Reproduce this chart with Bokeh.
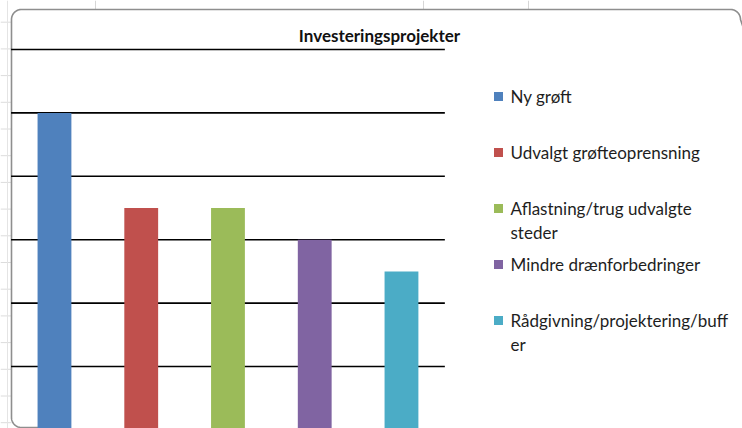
import numpy as np
from bokeh.plotting import figure
from bokeh.models import Range1d, ColumnDataSource
from bokeh.core.properties import value
from bokeh.embed import file_html
from bokeh.resources import INLINE

# ---- data ----
title_text = "Investeringsprojekter"
categories = ["Ny grøft", "Udvalgt grøfteoprensning", "Aflastning/trug udvalgte steder",
              "Mindre drænforbedringer", "Rådgivning/projektering/buffer"]
legend_labels = ["Ny grøft", "Udvalgt grøfteoprensning", "Aflastning/trug udvalgte\nsteder",
                 "Mindre drænforbedringer", "Rådgivning/projektering/buff\ner"]
values = [5.0, 3.5, 3.5, 3.0, 2.5]
colors = ["#4F81BD", "#C0504D", "#9BBB59", "#8064A2", "#4BACC6"]
grid_values = [1, 2, 3, 4, 5, 6]

# ---- layout (pixels) ----
W, H = 742, 428
OFF = 0
SX = 86.75              # px per category slot
SY = 63.4               # px per value unit
x_start = -(10.6 - OFF) / SX
x_end = x_start + W / SX
y_end = 6 + (49 - OFF) / SY
y_start = y_end - H / SY

def X(px):
    return x_start + (px - OFF) / SX

def Y(py):
    return y_end - (py - OFF) / SY

FONT = "Lato"

p = figure(width=W, height=H, x_range=Range1d(x_start, x_end), y_range=Range1d(y_start, y_end),
           x_axis_type=None, y_axis_type=None, output_backend="svg", toolbar_location=None,
           min_border=0, outline_line_color=None, background_fill_color="white",
           border_fill_color="white")
p.grid.visible = False

# faint spreadsheet cell lines behind the chart
stub_y = [21.7 + 26.7 * k for k in range(16)]
p.segment(x0=[X(0)] * len(stub_y), x1=[X(11)] * len(stub_y), y0=[Y(v) for v in stub_y],
          y1=[Y(v) for v in stub_y], line_color="#dcdcdc", line_width=1)
p.segment(x0=[X(7)], x1=[X(7)], y0=[Y(0)], y1=[Y(428)], line_color="#e4e4e4", line_width=1)
top_x = [95, 423, 528]
p.segment(x0=[X(v) for v in top_x], x1=[X(v) for v in top_x], y0=[Y(0)] * 3, y1=[Y(9)] * 3,
          line_color="#d6d6d6", line_width=1)

# chart-area border (rounded corners)
r = 10
a1 = np.linspace(np.pi, np.pi / 2, 20)          # top-left
a2 = np.linspace(np.pi, 3 * np.pi / 2, 20)      # bottom-left
a3 = np.linspace(np.pi / 2, 0, 20)              # top-right
bx = ([750] + list(740 - r + r * np.cos(a3[::-1])) + list(11 + r + r * np.cos(a1[::-1]))
      + list(11 + r + r * np.cos(a2)) + [60])
by = ([9 + r + 30] + list(9 + r - r * np.sin(a3[::-1])) + list(9 + r - r * np.sin(a1[::-1]))
      + list(417 - r * np.sin(a2)) + [427])
p.line([X(v) for v in bx], [Y(v) for v in by], line_color="#8e8e8e", line_width=1.6)

# gridlines
n = len(categories)
p.segment(x0=[0] * len(grid_values), x1=[n] * len(grid_values), y0=grid_values, y1=grid_values,
          line_color="black", line_width=1.6)

# bars
src = ColumnDataSource(dict(x=[i + 0.5 for i in range(n)], top=values, color=colors, cat=categories))
p.vbar(x="x", top="top", bottom=0, width=0.39, fill_color="color", line_color=None, source=src)

# title
p.text(x=[X(379)], y=[Y(35)], text=[title_text], text_font=value(FONT), text_font_style="bold",
       text_font_size="17px", text_align="center", text_baseline="middle", text_color="#111111")

# legend
leg_y0, leg_dy, line_h = 96, 56, 24
sq_x, txt_x, sq = 498, 510, 9
lx, ly, lt = [], [], []
for i, lab in enumerate(legend_labels):
    for k, part in enumerate(lab.split("\n")):
        lx.append(X(txt_x))
        ly.append(Y(leg_y0 + i * leg_dy + k * line_h))
        lt.append(part)
p.rect(x=[X(sq_x)] * n, y=[Y(leg_y0 + i * leg_dy) for i in range(n)],
       width=sq / SX, height=sq / SY, fill_color=colors, line_color=None)
p.text(x=lx, y=ly, text=lt, text_font=value(FONT), text_font_size="17px",
       text_align="left", text_baseline="middle", text_color="#1e1e1e")

open("out.html", "w").write(file_html(p, INLINE))
